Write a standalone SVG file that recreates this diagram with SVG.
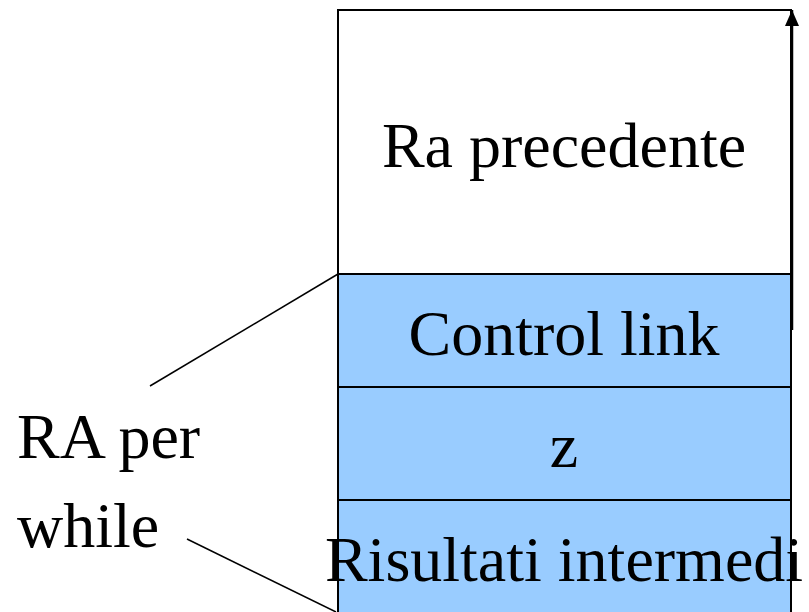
<svg xmlns="http://www.w3.org/2000/svg" width="809" height="612" viewBox="0 0 809 612">
<style>
.box{stroke:#000;stroke-width:2}
.white{fill:#fff}
.blue{fill:#99CCFF}
.lbl{font-family:"Liberation Serif","Times New Roman",serif;font-size:64px;fill:#000}
.c{text-anchor:middle}
.conn{stroke:#000;stroke-width:1.5;fill:none}
</style>
<defs>
<marker id="arr" viewBox="0 0 16 14" refX="16" refY="7" markerWidth="16" markerHeight="14" markerUnits="userSpaceOnUse" orient="auto">
<path d="M0,0 L16,7 L0,14 z" fill="#000"/>
</marker>
</defs>
<rect width="809" height="612" fill="#fff"/>
<g id="ra-precedente">
<rect class="box white" x="338" y="10" width="453" height="264"/>
<text class="lbl c" x="564" y="167">Ra precedente</text>
</g>
<g id="control-link">
<rect class="box blue" x="338" y="274" width="453" height="113"/>
<text class="lbl c" x="564" y="355">Control link</text>
</g>
<g id="z">
<rect class="box blue" x="338" y="387" width="453" height="113"/>
<text class="lbl c" x="564" y="467">z</text>
</g>
<g id="risultati">
<rect class="box blue" x="338" y="500" width="453" height="130"/>
<text class="lbl c" x="564" y="581">Risultati intermedi</text>
</g>
<g id="label">
<text class="lbl" x="17" y="458">RA per</text>
<text class="lbl" x="17" y="547">while</text>
</g>
<g id="connectors">
<line class="conn" x1="150" y1="386" x2="338" y2="274"/>
<line class="conn" x1="187" y1="539" x2="336" y2="612"/>
<line x1="792" y1="330" x2="792" y2="10" stroke="#000" stroke-width="2.5" marker-end="url(#arr)"/>
</g>
</svg>
